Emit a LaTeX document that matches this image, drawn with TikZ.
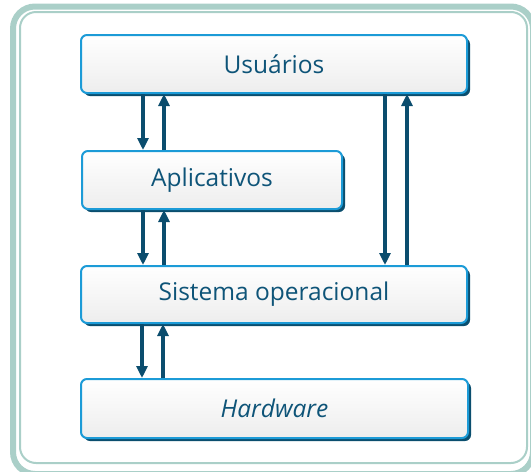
\documentclass[tikz,border=0pt]{standalone}
\usepackage{fontspec}
\setmainfont{Open Sans}
\usetikzlibrary{arrows.meta,shadows}
\definecolor{framegreen}{HTML}{AACFC8}
\definecolor{boxblue}{HTML}{1C9BD7}
\definecolor{shadowblue}{HTML}{0A4E6E}
\definecolor{arrowblue}{HTML}{0B4D6E}
\definecolor{textblue}{HTML}{0E5478}
\tikzset{
  layerbox/.style={draw=boxblue, line width=2pt, rounded corners=6pt,
    top color=white, bottom color=black!7, anchor=north west,
    inner sep=0pt, font=\fontsize{24.5}{28}\selectfont, text=textblue,
    drop shadow={shadow xshift=3pt, shadow yshift=-3pt, fill=shadowblue, opacity=1}},
  arr/.style={draw=arrowblue, line width=3.6pt, -{Triangle[width=11pt,length=12pt]}},
}
\begin{document}
\begin{tikzpicture}[x=1pt,y=1pt]
\useasboundingbox (0,0) rectangle (531,-472);
\begin{scope}
\clip (0,0) rectangle (531,-472);
\draw[framegreen, line width=6pt, rounded corners=22pt] (13,-6.5) rectangle (533,-474);
\draw[framegreen, line width=2pt, rounded corners=16pt] (20,-12) rectangle (527,-463);
\end{scope}
\node[layerbox, minimum width=386pt, minimum height=58pt] (usu) at (80,-34) {Usuários};
\node[layerbox, minimum width=260pt, minimum height=58pt] (apl) at (81,-150) {Aplicativos};
\node[layerbox, minimum width=386pt, minimum height=57pt] (so) at (80,-265) {Sistema operacional};
\node[layerbox, minimum width=387pt, minimum height=59pt] (hw) at (80,-378) {\itshape Hardware};
% Usuarios <-> Aplicativos
\draw[arr] ([xshift=63pt]usu.south west) -- ([xshift=62pt]apl.north west);
\draw[arr] ([xshift=83pt]apl.north west) -- ([xshift=84pt]usu.south west);
% Aplicativos <-> Sistema
\draw[arr] ([xshift=62pt]apl.south west) -- ([xshift=63pt]so.north west);
\draw[arr] ([xshift=84pt]so.north west) -- ([xshift=83pt]apl.south west);
% Sistema <-> Hardware
\draw[arr] ([xshift=62pt]so.south west) -- ([xshift=62pt]hw.north west);
\draw[arr] ([xshift=83pt]hw.north west) -- ([xshift=83pt]so.south west);
% Usuarios <-> Sistema (right side)
\draw[arr] ([xshift=305pt]usu.south west) -- ([xshift=305pt]so.north west);
\draw[arr] ([xshift=327pt]so.north west) -- ([xshift=327pt]usu.south west);
\end{tikzpicture}
\end{document}
